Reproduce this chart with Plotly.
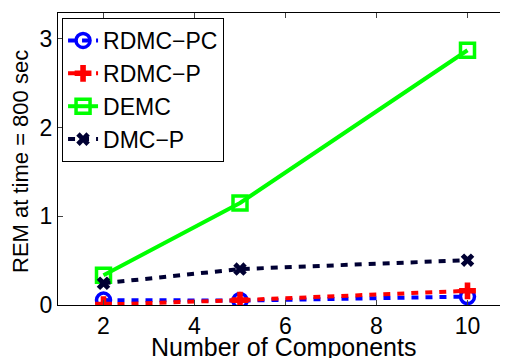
import plotly.graph_objects as go

x_vals = [2, 5, 10]
rdmc_pc = [0.055, 0.05, 0.095]
rdmc_p = [0.005, 0.055, 0.16]
demc = [0.335, 1.15, 2.87]
dmc_p = [0.245, 0.405, 0.505]
names = ["RDMC\u2212PC", "RDMC\u2212P", "DEMC", "DMC\u2212P"]
x_ticks = [2, 4, 6, 8, 10]
y_ticks = [0, 1, 2, 3]
x_title = "Number of Components"
y_title = "REM at time = 800 sec"

FONT = "Liberation Sans, Arial, Helvetica, sans-serif"

fig = go.Figure()
fig.add_trace(go.Scatter(x=x_vals, y=rdmc_pc, name=names[0], mode="lines+markers",
                         line=dict(color="#0000ff", width=4, dash="7px,7px"),
                         marker=dict(symbol="circle-open", size=14, color="#0000ff", line=dict(width=3.5))))
fig.add_trace(go.Scatter(x=x_vals, y=rdmc_p, name=names[1], mode="lines+markers",
                         line=dict(color="#ff0000", width=4, dash="7px,7px"),
                         marker=dict(symbol="cross", size=14, color="#ff0000", line=dict(width=0))))
fig.add_trace(go.Scatter(x=x_vals, y=demc, name=names[2], mode="lines+markers",
                         line=dict(color="#00ff00", width=4),
                         marker=dict(symbol="square-open", size=14, color="#00ff00", line=dict(width=3.5))))
fig.add_trace(go.Scatter(x=x_vals, y=dmc_p, name=names[3], mode="lines+markers",
                         line=dict(color="#000033", width=4, dash="7px,7px"),
                         marker=dict(symbol="x", size=12, color="#000033", line=dict(width=0))))

# the page body has an 8px default margin, so the figure is 8px smaller than the window
fig.update_layout(
    width=500, height=350,
    margin=dict(l=50, r=0, t=5, b=53),
    paper_bgcolor="white", plot_bgcolor="white",
    font=dict(family=FONT, size=22, color="black"),
    showlegend=True,
    legend=dict(x=0.009, y=0.983, xanchor="left", yanchor="top",
                bgcolor="white", bordercolor="black", borderwidth=1,
                font=dict(family=FONT, size=23), tracegroupgap=0,
                itemwidth=30),
    xaxis=dict(range=[1, 10.89], tickvals=x_ticks, ticks="inside", ticklen=5,
               showline=True, linecolor="black", linewidth=1, mirror="ticks",
               showgrid=False, zeroline=False, tickfont=dict(size=23), automargin=False),
    yaxis=dict(range=[0, 3.29], tickvals=y_ticks, ticks="inside", ticklen=5,
               showline=True, linecolor="black", linewidth=1, mirror="ticks",
               showgrid=False, zeroline=False, tickfont=dict(size=23), automargin=False),
    annotations=[
        dict(text=x_title, xref="paper", yref="paper", x=0.5, y=0, xanchor="center",
             yanchor="top", yshift=-26, showarrow=False, font=dict(size=25)),
        dict(text=y_title, xref="paper", yref="paper", x=0, y=0.5, xanchor="center",
             yanchor="middle", xshift=-38, yshift=-3, textangle=-90, showarrow=False,
             font=dict(size=22)),
    ],
)

fig.write_html("out.html")
